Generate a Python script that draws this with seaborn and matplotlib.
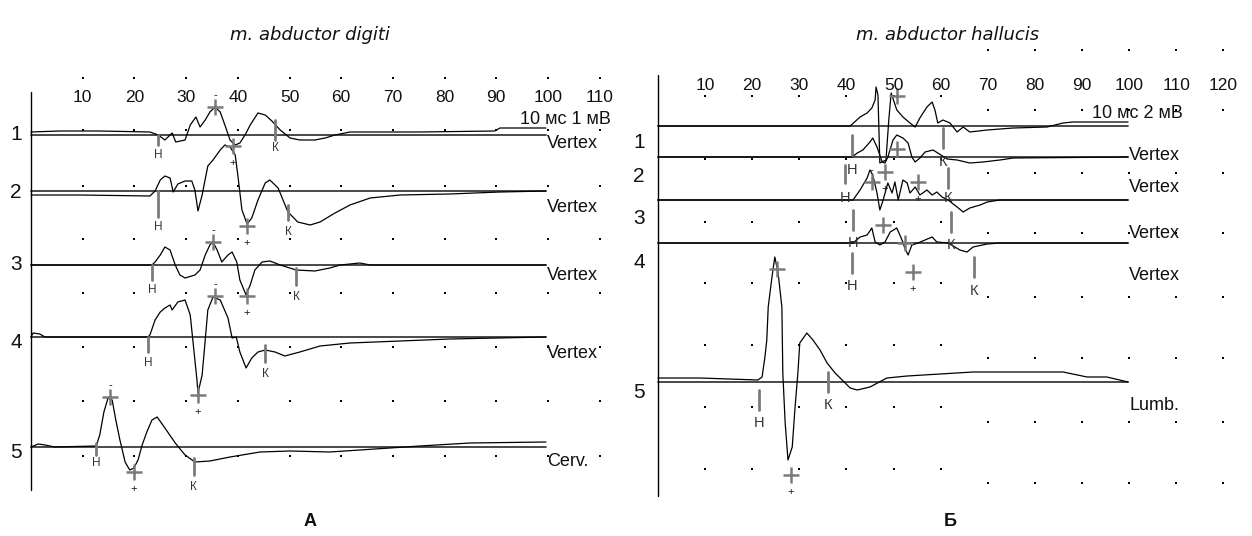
import matplotlib
matplotlib.use("Agg")
import matplotlib.pyplot as plt
import pandas as pd
import seaborn as sns

W, H = 1252, 536

# ---------- A: m. abductor digiti (time in ms, amplitude in mV) ----------
a1_t = [0, 5.6, 13.3, 23.0, 24.6, 25.9, 27.3, 28.0, 29.8, 30.8, 31.9, 32.7, 33.7, 34.6, 35.6, 36.6, 37.5,
        38.5, 39.5, 40.4, 41.4, 42.4, 43.9, 45.3, 46.6, 48.2, 50.1, 52.0, 54.9, 56.9, 58.8, 61.7, 75.2,
        89.7, 90.7, 99.6]
a1_v = [0.15, 0.2, 0.2, 0.15, 0, -0.25, 0.1, -0.35, -0.25, 0.5, 0.9, 0.4, 0.75, 1.15, 1.4, 1.15, 0.5,
        -0.25, -0.5, -0.4, 0, 0.5, 1.1, 1.0, 0.7, 0.25, -0.15, -0.25, -0.25, -0.15, 0, 0.15, 0.15,
        0.2, 0.35, 0.35]
a2_t = [0, 9.5, 23.0, 24.0, 25.0, 25.9, 26.9, 27.5, 28.4, 29.8, 31.1, 31.7, 32.3, 33.1, 34.2, 35.2, 36.6,
        37.5, 38.5, 39.5, 40.0, 40.8, 41.8, 42.7, 43.9, 45.3, 46.2, 47.8, 49.7, 51.6, 54.0, 55.9, 58.8,
        61.7, 65.6, 71.4, 81.0, 90.7, 99.6]
a2_v = [-0.2, -0.2, -0.25, 0, 0.55, 0.75, 0.65, -0.05, 0.35, 0.5, 0.5, 0.05, -1.0, -0.2, 1.25, 1.55, 2.05,
        2.3, 2.2, 1.8, 0.8, -0.95, -1.65, -1.35, -0.45, 0.4, 0.55, 0.15, -1.05, -1.55, -1.7, -1.55, -1.1,
        -0.7, -0.35, -0.2, -0.15, -0.05, 0]
a3_t = [0, 23.4, 24.0, 25.0, 25.9, 26.9, 27.9, 28.8, 29.8, 31.7, 32.7, 33.7, 34.6, 35.2, 36.0, 36.9, 38.1,
        38.9, 39.8, 40.4, 41.6, 42.4, 43.3, 44.7, 46.2, 48.2, 51.3, 54.9, 57.8, 59.8, 63.6, 65.6, 99.6]
a3_v = [0, 0, 0.15, 0.5, 0.9, 0.75, 0, -0.5, -0.65, -0.5, -0.25, 0.5, 1.0, 1.15, 0.75, 0.15, 0.5,
        0.65, 0.15, -0.75, -1.5, -1.0, -0.25, 0.15, 0.2, 0, -0.25, -0.3, -0.15, 0, 0.1, 0, 0]
a4_t = [0, 0.4, 1.7, 2.7, 22.6, 23.0, 24.0, 25.0, 25.9, 26.9, 27.3, 28.4, 29.8, 30.8, 31.3, 32.1, 32.3,
        33.1, 33.7, 34.2, 35.2, 36.6, 38.1, 38.9, 39.7, 40.4, 41.6, 42.7, 43.9, 45.3, 47.2, 49.1, 52.0,
        55.9, 61.7, 71.4, 81.0, 99.6]
a4_v = [0, 0.2, 0.15, 0, 0, 0.1, 0.85, 1.25, 1.45, 1.6, 1.35, 1.75, 1.85, 1.1, -0.15, -2.15, -2.8,
        -1.9, -0.15, 1.35, 2.0, 1.85, 0.95, -0.05, 0, -0.75, -1.55, -1.05, -0.75, -0.65, -0.75, -0.95, -0.75,
        -0.45, -0.3, -0.2, -0.1, 0]
a5_t = [0, 1.4, 2.7, 4.6, 12.6, 13.3, 14.1, 14.9, 15.7, 16.4, 17.2, 18.2, 19.1, 19.9, 20.7, 21.5, 22.4,
        23.4, 24.4, 25.9, 27.9, 29.8, 31.7, 34.6, 38.5, 44.3, 50.1, 57.8, 63.6, 75.2, 84.9, 99.6]
a5_v = [0, 0.15, 0.1, 0, 0.05, 0.6, 1.75, 2.45, 2.35, 1.35, 0.35, -0.75, -1.15, -1.05, -0.65, 0.1, 0.75,
        1.35, 1.5, 0.95, 0.2, -0.4, -0.75, -0.7, -0.5, -0.25, -0.2, -0.25, -0.15, 0.05, 0.2, 0.25]

a_names = ["1", "2", "3", "4", "5"]
a_leads = ["Vertex", "Vertex", "Vertex", "Vertex", "Cerv."]
a_ticks = [10, 20, 30, 40, 50, 60, 70, 80, 90, 100, 110]
# onset/end marks: (trace, ms, top, bottom, label position, label)
a_marks = [(0, 24.6, 0, -0.5, -1.0, "Н"), (0, 47.2, 0.75, -0.25, -0.65, "К"),
           (1, 24.6, 0, -1.3, -1.8, "Н"), (1, 49.7, -0.7, -1.45, -2.05, "К"),
           (2, 23.4, 0, -0.75, -1.25, "Н"), (2, 51.3, -0.15, -1.0, -1.6, "К"),
           (3, 22.6, 0, -0.75, -1.3, "Н"), (3, 45.3, -0.4, -1.25, -1.85, "К"),
           (4, 12.6, 0.2, -0.4, -0.8, "Н"), (4, 31.5, -0.55, -1.4, -2.0, "К")]
# peaks: (trace, ms, amplitude, sign)
a_peaks = [(0, 35.6, 1.4, "-"), (0, 39.1, -0.55, "+"), (1, 41.8, -1.75, "+"),
           (2, 35.2, 1.15, "-"), (2, 41.8, -1.55, "+"), (3, 35.6, 2.05, "-"),
           (3, 32.3, -2.9, "+"), (4, 15.3, 2.5, "-"), (4, 19.9, -1.25, "+")]

# ---------- Б: m. abductor hallucis ----------
b1_t = [0, 40.8, 42.9, 44.4, 45.4, 46.1, 46.3, 46.7, 47.1, 48.4, 49.0, 49.5, 50.7, 52.0, 53.5, 54.6, 55.6,
        57.1, 58.2, 58.8, 59.4, 60.5, 62.0, 63.5, 64.8, 66.2, 69.9, 75.4, 82.6, 86.0, 88.1, 99.8]
b1_v = [0, 0, 0.9, 1.3, 1.8, 2.6, 3.9, 3.1, -3.7, -3.4, 0.6, 3.3, 1.6, 0.9, 0.3, -0.1, 0.8,
        1.9, 2.4, 1.6, 0.3, 0.6, 0.3, -0.6, -0.1, -0.6, -0.4, -0.2, -0.1, 0.3, 0.4, 0.4]
b2_t = [0, 41.2, 42.3, 43.5, 45.0, 45.6, 46.5, 47.6, 48.2, 48.8, 49.9, 50.7, 52.0, 53.1, 53.9, 54.6, 55.6,
        56.7, 58.4, 59.4, 61.4, 63.5, 66.2, 69.0, 72.6, 75.4, 99.8]
b2_v = [0, 0, 0.4, 0.7, 1.5, 1.9, 1.0, -0.5, -0.6, 0, 1.7, 2.2, 1.9, 1.4, 0, -0.5, -0.1,
        0.5, 0.7, 0.4, -0.2, -0.3, -0.6, -0.5, -0.3, -0.1, 0]
b3_t = [0, 41.4, 42.9, 44.4, 45.0, 45.6, 46.5, 47.1, 47.8, 48.8, 49.7, 50.3, 51.0, 52.0, 52.9, 53.5, 54.6,
        55.6, 57.1, 58.2, 59.2, 60.3, 61.6, 63.5, 64.8, 66.2, 68.4, 69.9, 72.6, 99.8]
b3_v = [0, 0, 1.0, 2.2, 3.0, 2.5, 0.7, -1.0, 0, 1.7, 0.7, 1.8, 0, 2.0, 1.7, 0.7, 1.3,
        0.5, 1.0, 0.5, 0.8, 0.3, 0, -0.7, -1.2, -0.8, -0.5, -0.2, 0, 0]
b4_t = [0, 41.4, 42.9, 44.4, 45.4, 46.1, 47.1, 48.2, 49.3, 50.7, 51.8, 52.4, 53.1, 53.9, 55.2, 56.7, 58.2,
        59.2, 61.6, 64.1, 65.6, 66.9, 69.9, 72.6, 99.8]
b4_v = [0, 0, 0.6, 0.8, 1.5, 0.1, -0.2, 0.1, 1.1, 1.5, 0.3, -0.5, -1.2, -0.2, 0, 0.3, 0.6,
        0.1, 0, -0.7, -0.9, -0.4, -0.1, 0, 0]
b5_t = [0, 8.9, 21.2, 22.1, 22.7, 23.1, 23.4, 24.2, 24.8, 25.5, 26.3, 26.5, 27.0, 27.6, 28.5, 29.1, 29.7,
        30.1, 31.6, 32.9, 34.4, 35.9, 37.6, 39.1, 40.8, 42.3, 45.0, 48.6, 52.9, 66.9, 86.0, 91.1, 95.3, 99.8]
b5_v = [0.4, 0.4, 0.2, 0.5, 2.5, 4.2, 7.5, 10.5, 12.5, 10.9, 7.5, 0.9, -4.1, -7.8, -6.5, -2.5, 0.9,
        3.9, 4.9, 4.2, 3.2, 1.9, 0.9, 0.2, -0.6, -0.8, -0.5, 0.4, 0.6, 1.0, 1.0, 0.5, 0.5, 0]

b_names = ["1", "2", "3", "4", "5"]
b_leads = ["Vertex", "Vertex", "Vertex", "Vertex", "Lumb."]
b_ticks = [10, 20, 30, 40, 50, 60, 70, 80, 90, 100, 110, 120]
b_marks = [(0, 41.2, -0.9, -2.9, -4.4, "Н"), (0, 60.5, -0.2, -2.2, -3.6, "К"),
           (1, 39.7, -0.8, -2.6, -4.1, "Н"), (1, 61.6, -1.1, -3.1, -4.1, "К"),
           (2, 41.4, -1.0, -3.0, -4.3, "Н"), (2, 62.2, -1.2, -3.2, -4.5, "К"),
           (3, 41.2, -1.0, -3.0, -4.3, "Н"), (3, 67.1, -1.4, -3.4, -4.8, "К"),
           (4, 21.4, -0.8, -2.8, -4.1, "Н"), (4, 36.1, 1.0, -1.0, -2.3, "К")]
b_peaks = [(0, 50.7, 3.0, ""), (1, 50.7, 0.8, ""), (1, 48.2, -1.5, "+"),
           (2, 45.4, 1.8, "-"), (2, 55.2, 1.8, "+"), (3, 47.8, 1.8, ""),
           (3, 52.4, 0.0, ""), (3, 54.1, -2.9, "+"), (4, 25.3, 11.3, ""), (4, 28.2, -9.3, "+")]

# ---------- layout (pixels) ----------
A = dict(x0=31, px_ms=5.17, px_mv=20, base=[135, 191, 265, 337, 447], axis=(92, 490),
         tick_y=98, num_x=16, num_y=[135, 193, 265, 342, 452], lead_y=[143, 208, 276, 353, 462],
         dot_rows=[78, 130, 186, 239, 293, 347, 401, 456], end=99.6)
B = dict(x0=658, px_ms=4.71, px_mv=10, base=[126, 157, 200, 243, 382], axis=(75, 496),
         tick_y=85, num_x=639, num_y=[142, 177, 218, 262, 392], lead_y=[155, 188, 233, 276, 406], end=99.8)
GRAY = "#7a7a7a"

sns.set_theme(style="white")
plt.rcParams["font.family"] = ["Liberation Sans", "DejaVu Sans"]
plt.rcParams["text.color"] = "#111111"

fig = plt.figure(figsize=(W / 100, H / 100), dpi=100)


def make_axes(p):
    ax = fig.add_axes([0, 0, 1, 1])
    ax.set_xlim(-p["x0"] / p["px_ms"], (W - p["x0"]) / p["px_ms"])
    ax.set_ylim(H, 0)
    ax.axis("off")
    ax.patch.set_alpha(0)
    return ax


def draw_panel(ax, p, traces, names, leads, ticks, marks, peaks, small):
    ys = lambda k, v: p["base"][k] - v * p["px_mv"]
    num_x = (p["num_x"] - p["x0"]) / p["px_ms"]
    for k, (t, v) in enumerate(traces):
        ax.plot([0, p["end"]], [p["base"][k]] * 2, color="#3a3a3a", lw=1.3)
        df = pd.DataFrame({"t": t, "y": [ys(k, a) for a in v]})
        sns.lineplot(data=df, x="t", y="y", ax=ax, color="black", linewidth=0.9,
                     estimator=None, sort=False)
        ax.text(num_x, p["num_y"][k], names[k], fontsize=15, ha="center", va="center")
        ax.text(p["end"] + 1 / p["px_ms"], p["lead_y"][k], leads[k], fontsize=13, va="center")
    ax.plot([0, 0], p["axis"], color="black", lw=1)
    for tk in ticks:
        ax.text(tk, p["tick_y"], str(tk), fontsize=12.5, ha="center", va="center")
    for k, ms, top, bot, lab_y, lab in marks:
        ax.plot([ms, ms], [ys(k, top), ys(k, bot)], color=GRAY, lw=2)
        ax.text(ms, ys(k, lab_y), lab, fontsize=small, ha="center", va="center", color="#333333")
    for k, ms, amp, sign in peaks:
        y = ys(k, amp)
        ax.plot(ms, y, marker="+", markersize=11, mew=1.8, color=GRAY)
        if sign == "-":
            ax.text(ms, y - 12, "-", fontsize=8, ha="center", va="center")
        elif sign == "+":
            ax.text(ms, y + 17, "+", fontsize=8, ha="center", va="center")


axA = make_axes(A)
draw_panel(axA, A, [(a1_t, a1_v), (a2_t, a2_v), (a3_t, a3_v), (a4_t, a4_v), (a5_t, a5_v)],
           a_names, a_leads, a_ticks, a_marks, a_peaks, 8.5)
dots = [(c, r) for c in a_ticks for r in A["dot_rows"]]
axA.scatter([d[0] for d in dots], [d[1] for d in dots], s=3, color="black", marker="s", linewidths=0)

axB = make_axes(B)
draw_panel(axB, B, [(b1_t, b1_v), (b2_t, b2_v), (b3_t, b3_v), (b4_t, b4_v), (b5_t, b5_v)],
           b_names, b_leads, b_ticks, b_marks, b_peaks, 10.5)
rows_near = [96, 159, 222, 283, 345, 407, 469]
rows_far = [50, 110, 173, 233, 297, 358, 422, 483]
dots = [(c, r) for c in b_ticks if c <= 60 for r in rows_near] + \
       [(c, r) for c in b_ticks if c > 60 for r in rows_far]
axB.scatter([d[0] for d in dots], [d[1] for d in dots], s=3, color="black", marker="s", linewidths=0)


def ftext(x, y, s, **kw):
    fig.text(x / W, 1 - y / H, s, ha="center", va="center", **kw)


ftext(565, 120, "10 мс 1 мВ", fontsize=13)
ftext(1137, 113, "10 мс 2 мВ", fontsize=13)
ftext(310, 35, "m. abductor digiti", fontsize=13, style="italic", family="DejaVu Sans")
ftext(948, 35, "m. abductor hallucis", fontsize=13, style="italic", family="DejaVu Sans")
ftext(310, 522, "А", fontsize=13, weight="bold")
ftext(950, 522, "Б", fontsize=13, weight="bold")

fig.savefig("out.png", dpi=100, facecolor="white")
